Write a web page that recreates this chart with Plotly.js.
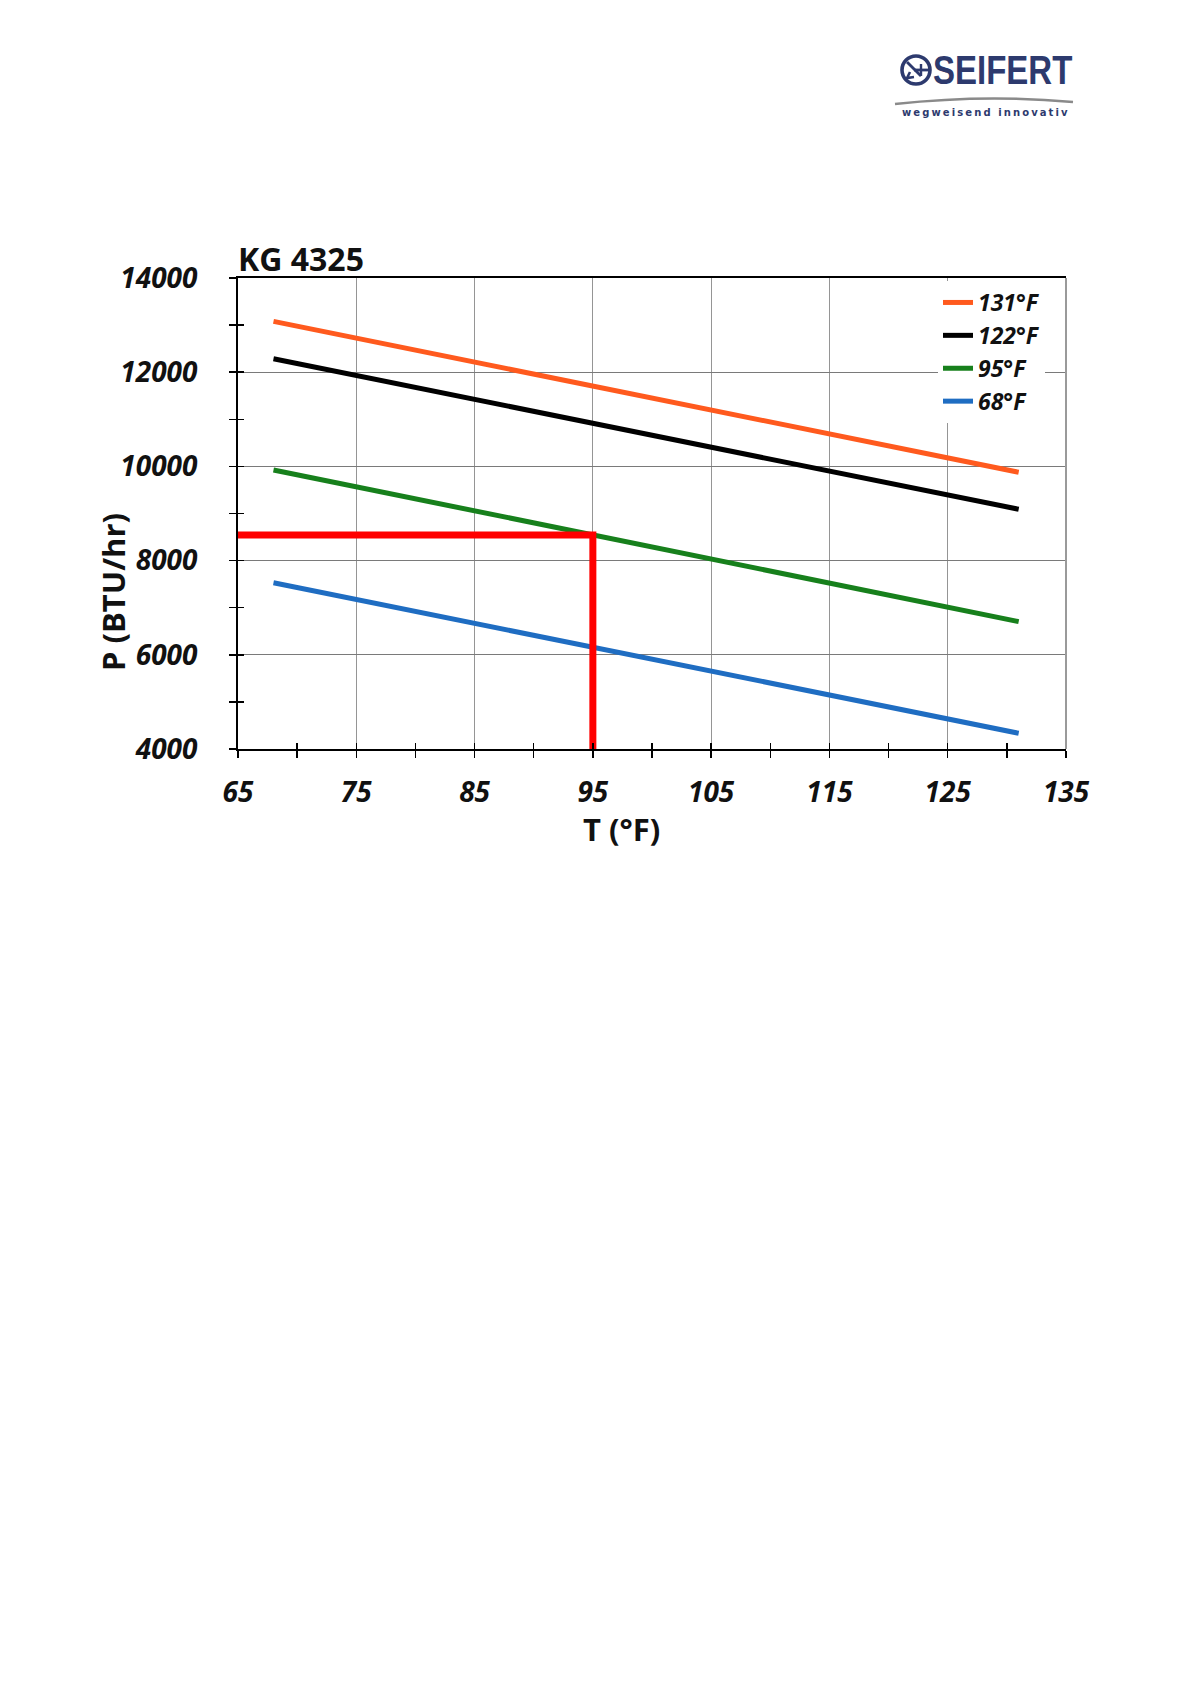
<!DOCTYPE html>
<html>
<head>
<meta charset="utf-8">
<script src="https://cdn.plot.ly/plotly-3.0.1.min.js"></script>
<style>
  html, body { margin: 0; padding: 0; background: #fff; }
  #page { position: relative; width: 1192px; height: 1685px; overflow: hidden; }
  #chart { position: absolute; left: 0; top: 0; width: 1192px; height: 1685px; }
  #logo { position: absolute; left: 880px; top: 20px; }
</style>
</head>
<body>
<div id="page">
  <div id="chart"></div>
  <svg id="logo" width="300" height="120" viewBox="880 20 300 120">
    <circle cx="916" cy="70" r="14" fill="none" stroke="#2d3a6e" stroke-width="3.6"/>
    <path d="M907 62 L921 76" stroke="#2d3a6e" stroke-width="2.8" fill="none"/>
    <path d="M910 72 L907 78 L914 77" stroke="#2d3a6e" stroke-width="2.6" fill="none"/>
    <path d="M914 70 L929 70" stroke="#2d3a6e" stroke-width="2.8" fill="none"/>
    <path d="M921 64 L921 76" stroke="#2d3a6e" stroke-width="2.4" fill="none"/>
    <text transform="translate(933,84) scale(1,1.22)"
          font-family="Liberation Sans, Arial" font-weight="bold"
          font-size="33" fill="#2d3a6e">SEIFERT</text>
    <path d="M895 104 Q985 94 1073 102" stroke="#8a8a8a" stroke-width="2.6" fill="none"/>
    <text x="902" y="116" letter-spacing="2.1"
          font-family="DejaVu Sans, Arial" font-weight="bold" font-size="10" fill="#2d3a6e">wegweisend innovativ</text>
  </svg>
</div>
<script>
// ambient temperatures of the curves (°F)
const tempF = [68, 131];

// cooling power per curve, BTU/hr, read at 68 °F and 131 °F
const p131 = [13080, 9875];
const p122 = [12285, 9090];
const p95 = [9925, 6705];
const p68 = [7530, 4335];

const seriesNames = ["131°F", "122°F", "95°F", "68°F"];
const seriesColors = ["#ff5a1e", "#000000", "#17801c", "#1f6dc2"];

// red read-off guide: 95 °F on the 95°F curve
const guideT = [65, 95, 95];
const guideP = [8545, 8545, 4000];

const xTicks = [65, 75, 85, 95, 105, 115, 125, 135];
const yTicks = [4000, 6000, 8000, 10000, 12000, 14000];

const W = 1192, H = 1685;
const margin = { l: 238, r: 126, t: 278, b: 936 };
const plotW = W - margin.l - margin.r;
const plotH = H - margin.t - margin.b;
const px = (x) => (x - margin.l) / plotW;
const py = (y) => (H - margin.b - y) / plotH;

const curveData = [p131, p122, p95, p68];
const traces = curveData.map((p, i) => ({
  x: tempF,
  y: p,
  name: seriesNames[i],
  mode: "lines",
  line: { color: seriesColors[i], width: 5 },
  hoverinfo: "skip",
}));

traces.push({
  x: guideT,
  y: guideP,
  mode: "lines",
  line: { color: "#ff0000", width: 7 },
  showlegend: false,
  hoverinfo: "skip",
});

// empty trace so the overlay axes (inner half of crossing ticks) get drawn
traces.push({ x: [], y: [], xaxis: "x2", yaxis: "y2", showlegend: false, hoverinfo: "skip" });

const tickFont = { family: "Open Sans", size: 28, weight: 700, style: "italic", color: "#111" };
const titleFont = { family: "Open Sans", size: 31, weight: 700, color: "#111" };

const layout = {
  width: W,
  height: H,
  margin,
  paper_bgcolor: "#ffffff",
  plot_bgcolor: "#ffffff",
  showlegend: true,
  title: {
    text: "KG 4325",
    font: { family: "Open Sans", size: 32, weight: 700, color: "#111" },
    xref: "paper",
    x: px(238),
    xanchor: "left",
    yref: "container",
    y: 1 - 260 / H,
    yanchor: "middle",
  },
  xaxis: {
    range: [65, 135],
    tickvals: xTicks,
    ticktext: xTicks.map(String),
    tickfont: tickFont,
    ticks: "outside",
    ticklen: 7,
    tickwidth: 1.5,
    tickcolor: "#000",
    ticklabelstandoff: 10,
    minor: { tickvals: [70, 80, 90, 100, 110, 120, 130], ticks: "outside", ticklen: 7, tickwidth: 1.5, tickcolor: "#000", showgrid: false },
    showgrid: true,
    gridcolor: "#959595",
    gridwidth: 1,
    zeroline: false,
    showline: true,
    linecolor: "#000",
    linewidth: 2,
    mirror: true,
    fixedrange: true,
  },
  yaxis: {
    range: [4000, 14000],
    tickvals: yTicks,
    ticktext: yTicks.map(String),
    tickfont: tickFont,
    ticks: "outside",
    ticklen: 7,
    tickwidth: 1.5,
    tickcolor: "#000",
    ticklabelstandoff: 26,
    minor: { dtick: 1000, tick0: 4000, ticks: "outside", ticklen: 7, tickwidth: 1.5, tickcolor: "#000", showgrid: false },
    showgrid: true,
    gridcolor: "#7a7a7a",
    gridwidth: 1,
    zeroline: false,
    showline: true,
    linecolor: "#000",
    linewidth: 2,
    fixedrange: true,
  },
  xaxis2: {
    overlaying: "x",
    anchor: "y",
    side: "bottom",
    range: [65, 135],
    dtick: 5,
    tick0: 65,
    ticks: "inside",
    ticklen: 6,
    tickwidth: 1.5,
    tickcolor: "#000",
    showticklabels: false,
    showgrid: false,
    showline: false,
    zeroline: false,
    fixedrange: true,
  },
  yaxis2: {
    overlaying: "y",
    anchor: "x",
    side: "left",
    range: [4000, 14000],
    dtick: 1000,
    tick0: 4000,
    ticks: "inside",
    ticklen: 6,
    tickwidth: 1.5,
    tickcolor: "#000",
    showticklabels: false,
    showgrid: false,
    showline: false,
    zeroline: false,
    fixedrange: true,
  },
  legend: {
    x: px(938),
    xanchor: "left",
    y: py(281),
    yanchor: "top",
    bgcolor: "#ffffff",
    borderwidth: 0,
    itemwidth: 30,
    font: { family: "Open Sans", size: 23, weight: 700, style: "italic", color: "#111" },
  },
  shapes: [
    {
      type: "line",
      xref: "paper",
      yref: "paper",
      x0: 1,
      x1: 1,
      y0: 0,
      y1: 1,
      line: { color: "#9a9a9a", width: 2 },
    },
  ],
  annotations: [
    {
      text: "T (°F)",
      xref: "paper",
      yref: "paper",
      x: px(621),
      y: py(829),
      xanchor: "center",
      yanchor: "middle",
      showarrow: false,
      font: titleFont,
    },
    {
      text: "P (BTU/hr)",
      xref: "paper",
      yref: "paper",
      x: px(113),
      y: py(592),
      xanchor: "center",
      yanchor: "middle",
      textangle: -90,
      showarrow: false,
      font: titleFont,
    },
  ],
};

Plotly.newPlot("chart", traces, layout, { displayModeBar: false, staticPlot: true });
</script>
</body>
</html>
